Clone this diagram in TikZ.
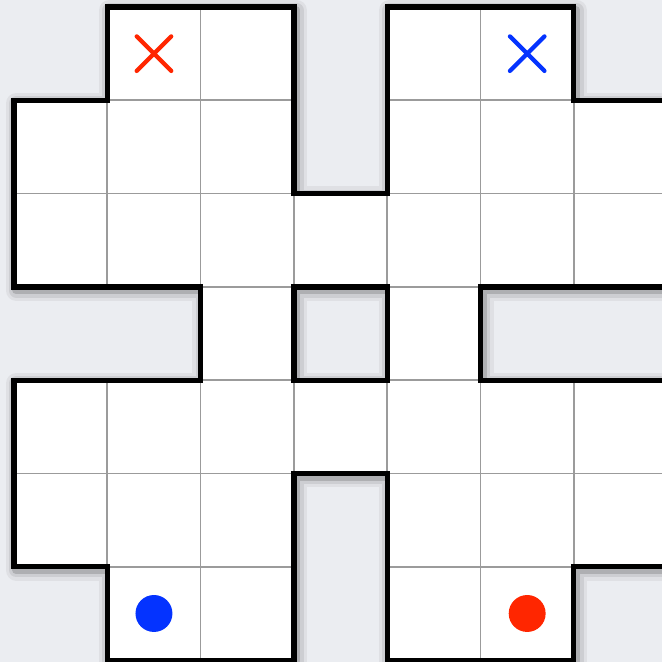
\documentclass[tikz,border=0pt]{standalone}
\definecolor{bg}{RGB}{235,237,241}
\definecolor{gridgray}{RGB}{155,155,155}
\definecolor{mred}{RGB}{255,38,0}
\definecolor{mblue}{RGB}{4,51,255}
\begin{document}
\begin{tikzpicture}[x=1cm,y=-1cm,
  outerpath/.style={insert path={(1,0) -- (3,0) -- (3,2) -- (4,2) -- (4,0) -- (6,0) -- (6,1) -- (7.2,1) -- (7.2,3) -- (5,3) -- (5,4) -- (7.2,4) -- (7.2,6) -- (6,6) -- (6,7) -- (4,7) -- (4,5) -- (3,5) -- (3,7) -- (1,7) -- (1,6) -- (0,6) -- (0,4) -- (2,4) -- (2,3) -- (0,3) -- (0,1) -- (1,1) -- cycle}},
  holepath/.style={insert path={(3,3) rectangle (4,4)}},
  thickline/.style={line width=1.6pt, line join=miter, black},
  gridline/.style={gridgray, line width=0.5pt},
  cross/.style={line width=1.3pt, line cap=round},
  shadowline/.style={black, line join=round}]
\fill[bg] (-0.15,-0.075) rectangle (6.945,7.02);
\useasboundingbox (-0.15,-0.075) rectangle (6.945,7.02);
\clip (-0.15,-0.075) rectangle (6.945,7.02);
% shadow
\begin{scope}[shift={(0.025,0.035)}]
  \draw[shadowline, opacity=0.05, line width=6.5pt, outerpath, holepath];
  \draw[shadowline, opacity=0.08, line width=4.5pt, outerpath, holepath];
  \draw[shadowline, opacity=0.15, line width=2.5pt, outerpath, holepath];
\end{scope}
% board
\fill[white, even odd rule, outerpath, holepath];
\begin{scope}
  \clip[outerpath];
  \draw[gridline] (0,0) grid (7,7);
\end{scope}
\draw[thickline, outerpath];
\draw[thickline, holepath];
% marks
\coordinate (xred) at (1.5,0.5);
\coordinate (xblue) at (5.5,0.5);
\coordinate (dblue) at (1.5,6.5);
\coordinate (dred) at (5.5,6.5);
\draw[cross, mred] (xred) ++(-0.185,-0.185) -- ++(0.37,0.37) (xred) ++(-0.185,0.185) -- ++(0.37,-0.37);
\draw[cross, mblue] (xblue) ++(-0.185,-0.185) -- ++(0.37,0.37) (xblue) ++(-0.185,0.185) -- ++(0.37,-0.37);
\fill[mblue] (dblue) circle (0.198);
\fill[mred] (dred) circle (0.198);
\end{tikzpicture}
\end{document}
